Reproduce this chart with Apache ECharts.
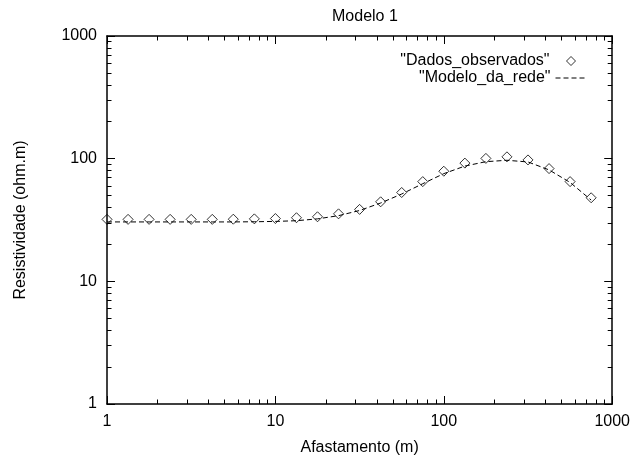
<!DOCTYPE html>
<html>
<head>
<meta charset="utf-8">
<script src="https://cdn.jsdelivr.net/npm/echarts@6/dist/echarts.min.js"></script>
<style>
  html, body { margin: 0; padding: 0; background: #fff; }
  #chart { width: 633px; height: 461px; }
</style>
</head>
<body>
<div id="chart"></div>
<script>
// afastamentos (m), 8 pontos por década
const afastamento = [1, 1.334, 1.778, 2.371, 3.162, 4.217, 5.623, 7.499,
  10, 13.34, 17.78, 23.71, 31.62, 42.17, 56.23, 74.99,
  100, 133.4, 177.8, 237.1, 316.2, 421.7, 562.3, 749.9]
const dadosObservados = [32.0, 32.0, 32.0, 32.0, 32.0, 32.0, 32.1, 32.3,
  32.5, 33.0, 33.6, 35.5, 38.6, 44.5, 53.0, 65.0,
  79.0, 92.0, 100.5, 103.5, 97.7, 83.0, 65.0, 48.0]
const modeloDaRede = [30.5, 30.5, 30.5, 30.5, 30.5, 30.5, 30.5, 30.6,
  30.8, 31.2, 32.3, 34.3, 37.8, 43.5, 51.5, 62.5,
  75.5, 87.0, 94.5, 97.0, 94.0, 81.0, 64.0, 46.0]
const majorTicks = [1, 10, 100, 1000]
const minorTicks = [2, 3, 4, 5, 6, 7, 8, 9, 20, 30, 40, 50, 60, 70, 80, 90,
  200, 300, 400, 500, 600, 700, 800, 900]

const FONT = 'Liberation Sans, Arial, Helvetica, sans-serif'
const nomeDados = '"Dados_observados"'
const nomeModelo = '"Modelo_da_rede"'
const frame = { color: '#000', width: 1.5 }

// eixo log onde ficam os dados (moldura do gráfico)
function logAxis(position, extra) {
  return Object.assign({
    type: 'log',
    logBase: 10,
    min: 1,
    max: 1000,
    position: position,
    axisLine: { show: true, onZero: false, lineStyle: frame },
    axisTick: { show: false },
    axisLabel: { show: false },
    splitLine: { show: false }
  }, extra || {})
}

// eixo auxiliar em log10, só para desenhar os ticks (para dentro)
function tickAxis(position, ticks, len) {
  return {
    type: 'value',
    min: 0,
    max: 3,
    position: position,
    axisLine: { show: false, onZero: false },
    axisTick: { show: true, inside: true, length: len,
      customValues: ticks.map(v => Math.log10(v)),
      lineStyle: { color: '#000', width: 1 } },
    axisLabel: { show: false },
    splitLine: { show: false }
  }
}

const labelStyle = {
  show: true,
  color: '#000',
  fontSize: 16,
  fontFamily: FONT,
  margin: 10,
  formatter: v => String(v)
}
const nameStyle = { color: '#000', fontSize: 16, fontFamily: FONT }
const legendText = { color: '#000', fontSize: 16, fontFamily: FONT }

const chart = echarts.init(document.getElementById('chart'), null, { renderer: 'canvas' })

chart.setOption({
  animation: false,
  backgroundColor: '#fff',
  title: {
    text: 'Modelo 1',
    left: 327,
    top: 4,
    textStyle: { color: '#000', fontSize: 16, fontWeight: 'normal', fontFamily: FONT }
  },
  legend: [
    {
      data: [nomeDados],
      align: 'right',
      right: 52,
      top: 48,
      itemWidth: 9,
      itemHeight: 9,
      itemStyle: { color: 'rgba(0,0,0,0)', borderColor: '#000', borderWidth: 1 },
      textStyle: Object.assign({ padding: [0, 12, 0, 0] }, legendText),
      selectedMode: false
    },
    {
      data: [nomeModelo],
      align: 'right',
      right: 40,
      top: 65,
      itemWidth: 32,
      itemHeight: 10,
      itemStyle: { opacity: 0 },
      lineStyle: { color: '#000', width: 1, type: [5, 3] },
      textStyle: legendText,
      selectedMode: false
    }
  ],
  grid: { left: 107, right: 20, top: 36, bottom: 47 },
  xAxis: [
    logAxis('bottom', {
      name: 'Afastamento (m)', nameLocation: 'middle', nameGap: 36,
      nameTextStyle: nameStyle, axisLabel: labelStyle
    }),
    logAxis('top'),
    tickAxis('bottom', majorTicks, 8),
    tickAxis('bottom', minorTicks, 4.5),
    tickAxis('top', majorTicks, 8),
    tickAxis('top', minorTicks, 4.5)
  ],
  yAxis: [
    logAxis('left', {
      name: 'Resistividade (ohm.m)', nameLocation: 'middle', nameGap: 78, nameRotate: 90,
      nameTextStyle: nameStyle, axisLabel: labelStyle
    }),
    logAxis('right'),
    tickAxis('left', majorTicks, 8),
    tickAxis('left', minorTicks, 4.5),
    tickAxis('right', majorTicks, 8),
    tickAxis('right', minorTicks, 4.5)
  ],
  series: [
    {
      name: nomeDados,
      type: 'scatter',
      symbol: 'diamond',
      symbolSize: 10,
      itemStyle: { color: 'rgba(0,0,0,0)', borderColor: '#000', borderWidth: 1 },
      data: afastamento.map((x, i) => [x, dadosObservados[i]]),
      z: 3
    },
    {
      name: nomeModelo,
      type: 'line',
      symbol: 'none',
      itemStyle: { color: '#000' },
      lineStyle: { color: '#000', width: 1, type: [5, 3] },
      data: afastamento.map((x, i) => [x, modeloDaRede[i]]),
      z: 4
    }
  ]
})
</script>
</body>
</html>
